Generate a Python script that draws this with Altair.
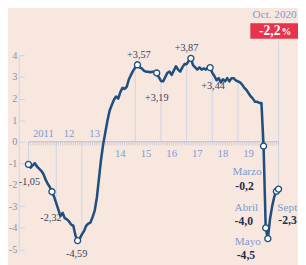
import altair as alt
import pandas as pd

# ---- data (monthly, Jan 2011 .. Oct 2020) ----
values = [
    # 2011
    -1.05, -1.2, -1.1, -1.0, -1.15, -1.25, -1.35, -1.5, -1.75, -1.95, -2.1, -2.32,
    # 2012
    -2.55, -2.85, -3.15, -3.45, -3.3, -3.55, -3.6, -3.7, -3.85, -3.9, -4.35, -4.59,
    # 2013
    -4.5, -4.3, -4.15, -3.9, -3.8, -3.75, -3.5, -3.2, -2.6, -1.7, -0.8, -0.1,
    # 2014
    0.45, 1.0, 1.45, 1.7, 1.95, 2.1, 2.0, 2.3, 2.5, 2.45, 2.55, 2.9,
    # 2015
    3.1, 3.3, 3.45, 3.57, 3.45, 3.4, 3.3, 3.25, 3.25, 3.22, 3.25, 3.25,
    # 2016
    3.19, 3.0, 2.82, 2.8, 3.0, 3.2, 3.25, 3.1, 3.3, 3.5, 3.35, 3.25,
    # 2017
    3.45, 3.6, 3.6, 3.75, 3.87, 3.55, 3.45, 3.35, 3.45, 3.35, 3.4, 3.35,
    # 2018
    3.45, 3.44, 3.2, 3.05, 2.85, 2.95, 2.75, 2.9, 2.8, 2.95, 2.8, 2.95,
    # 2019
    2.95, 2.85, 2.8, 2.75, 2.65, 2.5, 2.4, 2.25, 2.1, 2.0, 1.85, 1.85,
    # 2020
    1.8, 1.8, -0.2, -4.0, -4.5, -3.6, -3.0, -2.55, -2.3, -2.2,
]
months = list(range(len(values)))

year_labels = ["2011", "12", "13", "14", "15", "16", "17", "18", "19"]
year_label_months = [7, 19, 31, 43, 55, 67, 79, 91, 103]
year_label_above = [True, True, True, False, False, False, False, False, False]

grid_months = [0, 13, 25, 50, 62, 74, 86, 98, 109]
y_ticks = [-5, -4, -3, -2, -1, 0, 1, 2, 3, 4]
point_months = [0, 11, 23, 51, 60, 76, 85, 110, 111, 112, 116, 117]

# annotation text, month index it belongs to
ann_texts = ["-1,05", "-2,32", "-4,59", "+3,57", "+3,19", "+3,87", "+3,44"]
ann_months = [0, 11, 23, 51, 60, 76, 85]
month_names = ["Marzo", "Abril", "Mayo", "Sept"]
month_name_idx = [110, 111, 112, 116]
month_vals = ["-0,2", "-4,0", "-4,5", "-2,3"]
last_label = "Oct. 2020"
last_value_text = "-2,2"

# ---- styling ----
BG = "#f8e7de"
LINE = "#1f4f80"
GRID = "#cfd5e3"
RULER = "#b7c1d6"
AXLAB = "#8693b3"
LIGHT = "#7c9bd0"
DARK = "#34445f"
NAVY = "#1e2d4d"
RED = "#e5344b"
FONT = "Liberation Serif"

xs = alt.Scale(domain=[0, len(values) - 1], nice=False, zero=False)
ys = alt.Scale(domain=[-5.2, 6], nice=False, zero=False)
yaxis = alt.Axis(values=y_ticks, title=None, grid=False, domain=False, offset=4,
                 tickSize=6, tickColor=GRID, labelColor=AXLAB, labelFont=FONT,
                 labelFontSize=10.5, labelPadding=2, labelExpr="'' + datum.value")


def X(f):
    return alt.X(f, type="quantitative", scale=xs, axis=None)


def Y(f):
    return alt.Y(f, type="quantitative", scale=ys, axis=yaxis)


df = pd.DataFrame({"month": months, "value": values, "zero": 0})
val_at = dict(zip(months, values))

df_grid = pd.DataFrame({"month": grid_months,
                        "value": [val_at[m] for m in grid_months], "zero": 0})
df_pts = pd.DataFrame({"month": point_months,
                       "value": [val_at[m] for m in point_months]})
df_years = pd.DataFrame({"month": year_label_months, "label": year_labels,
                         "above": year_label_above, "zero": 0})
df_axisline = pd.DataFrame({"lo": [min(y_ticks)], "hi": [max(y_ticks)]})

layers = []

# y axis line
layers.append(alt.Chart(df_axisline).mark_rule(color=GRID, strokeWidth=1).encode(
    x=alt.value(-9.5), y=Y("lo"), y2="hi"))

# vertical drop lines
layers.append(alt.Chart(df_grid).mark_rule(color=GRID, strokeWidth=1).encode(
    x=X("month"), y=Y("zero"), y2="value"))

# last value line up to the header
layers.append(alt.Chart(df[df.month == months[-1]]).mark_rule(color=GRID, strokeWidth=1).encode(
    x=X("month"), y=Y("value"), y2=alt.value(29)))

# ruler along zero
layers.append(alt.Chart(df).mark_tick(orient="vertical", size=4, thickness=0.9,
                                      color=RULER, yOffset=2).encode(
    x=X("month"), y=Y("zero")))
layers.append(alt.Chart(df.iloc[[0]]).mark_rule(color=RULER, strokeWidth=1).encode(
    x=X("month"), x2=alt.value(257), y=Y("zero")))

# year labels
layers.append(alt.Chart(df_years[df_years.above]).mark_text(
    font=FONT, fontSize=11, color=LIGHT, baseline="middle", dy=-8).encode(
    x=X("month"), y=Y("zero"), text="label:N"))
layers.append(alt.Chart(df_years[~df_years.above]).mark_text(
    font=FONT, fontSize=11, color=LIGHT, baseline="middle", dy=13).encode(
    x=X("month"), y=Y("zero"), text="label:N"))

# the line
layers.append(alt.Chart(df).mark_line(color=LINE, strokeWidth=2.6,
                                      strokeJoin="round").encode(
    x=X("month"), y=Y("value")))

# points
layers.append(alt.Chart(df_pts).mark_point(shape="circle", filled=False, fill="white",
                                           fillOpacity=1, stroke=LINE, strokeWidth=1.4,
                                           size=38, opacity=1).encode(
    x=X("month"), y=Y("value")))


def label(text, month, dx, dy, color=DARK, size=10.5, weight="normal", align="center"):
    d = pd.DataFrame({"month": [month], "value": [val_at[month]], "t": [text]})
    return alt.Chart(d).mark_text(font=FONT, fontSize=size, color=color,
                                  fontWeight=weight, align=align, baseline="middle",
                                  dx=dx, dy=dy).encode(
        x=X("month"), y=Y("value"), text="t:N")


ann_offsets = [(1, 18), (-1, 27.5), (-1, 14), (1.5, -10), (0, 26), (-4.5, -11), (3, 19)]
for t, m, (dx, dy) in zip(ann_texts, ann_months, ann_offsets):
    layers.append(label(t, m, dx, dy))

name_offsets = [(-32, 26.7), (-32, -20.4), (-34, 4), (1, 17)]
val_offsets = [(-29, 40.7), (-32, -7.4), (-32, 17), (2, 30)]
for n, m, v, (ndx, ndy), (vdx, vdy) in zip(month_names, month_name_idx, month_vals,
                                          name_offsets, val_offsets):
    layers.append(label(n, m, ndx, ndy, color=LIGHT, size=11.5, align="left"))
    layers.append(label(v, m, vdx, vdy, color=NAVY, size=12, weight="bold", align="left"))

# header for last value
last = pd.DataFrame({"month": [months[-1]], "t": [last_label],
                     "v": [last_value_text], "p": ["%"]})
layers.append(alt.Chart(last).mark_text(font=FONT, fontSize=11.5, color=LIGHT,
                                        baseline="middle", dx=-4).encode(
    x=X("month"), y=alt.value(3), text="t:N"))
layers.append(alt.Chart(last).mark_rect(color=RED, xOffset=-29, x2Offset=20).encode(
    x=X("month"), x2="month", y=alt.value(11), y2=alt.value(27)))
layers.append(alt.Chart(last).mark_text(font=FONT, fontSize=14, color="white",
                                        fontWeight="bold", baseline="middle",
                                        align="right", dx=2).encode(
    x=X("month"), y=alt.value(19.5), text="v:N"))
layers.append(alt.Chart(last).mark_text(font=FONT, fontSize=10, color="white",
                                        fontWeight="bold", baseline="middle",
                                        align="left", dx=3, dy=1).encode(
    x=X("month"), y=alt.value(19.5), text="p:N"))

chart = alt.layer(*layers).properties(
    width=257, height=248, autosize="none",
    padding={"left": 21, "top": 1, "right": 20, "bottom": 8},
).configure(background=BG).configure_view(stroke=None)

chart.save("out.html", embed_options={"renderer": "svg", "actions": False})
